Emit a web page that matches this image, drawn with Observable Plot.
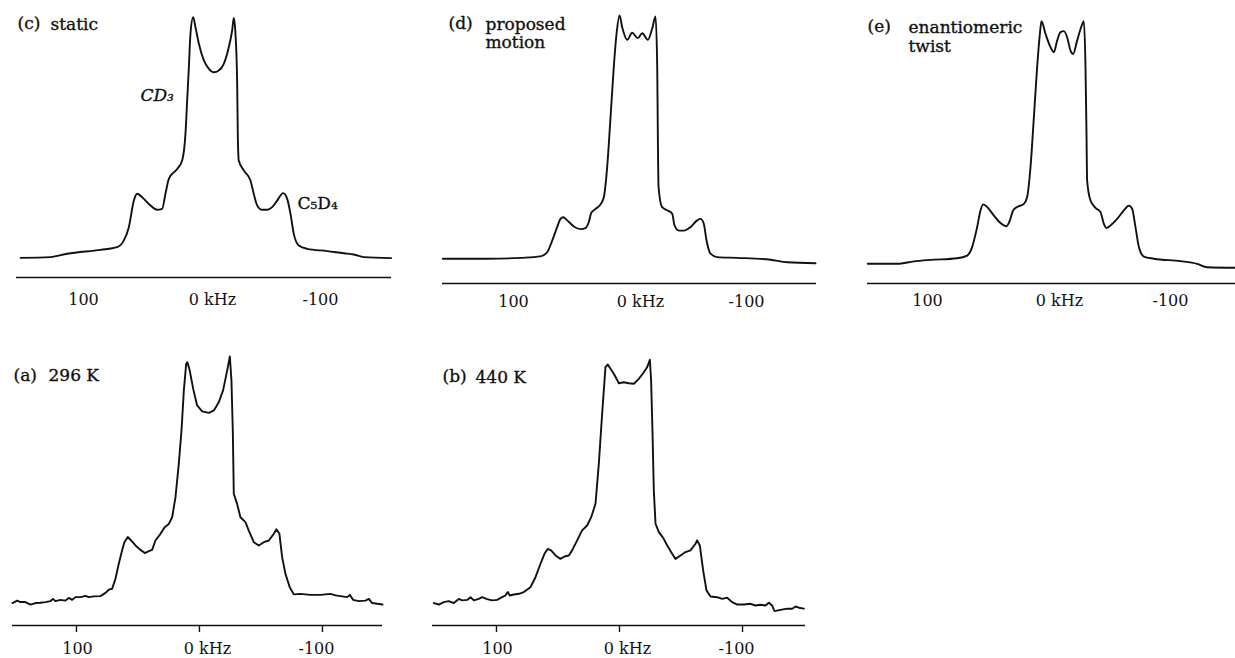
<!DOCTYPE html>
<html>
<head>
<meta charset="utf-8">
<script src="https://cdn.jsdelivr.net/npm/d3@7"></script>
<script src="https://cdn.jsdelivr.net/npm/@observablehq/plot@0.6"></script>
<style>
  html, body { margin: 0; padding: 0; background: #fff; }
  #chart { position: relative; width: 1235px; height: 658px; overflow: hidden; font-family: "DejaVu Serif", serif; color: #111; }
  #chart svg { position: absolute; overflow: visible; }
</style>
</head>
<body>
<div id="chart"></div>
<script>
// ---------------- DATA (frequency in kHz, intensity normalised to tallest peak = 100) ----------------
const panelTags   = ["(c)", "(d)", "(e)", "(a)", "(b)"];
const panelTitles = ["static", "proposed\nmotion", "enantiomeric\ntwist", "296 K", "440 K"];

const tickValues = [100, 0, -100];
const tickLabels = ["100", "0 kHz", "-100"];

const annLabels = ["CD₃", "C₅D₄"];
const annKHz    = [52.5, -76.2];
const annInt    = [65.5, 20.8];

// (c) static
const cKHz = [150.8,126.2,112.5,85.2,71.6,66.1,62.0,57.9,55.2,51.1,44.3,38.8,34.7,32.0,29.2,22.4,18.3,15.6,14.2,12.8,11.5,9.3,7.4,4.6,0.5,-3.6,-7.7,-11.7,-15.8,-19.9,-22.7,-24.0,-25.4,-26.8,-27.3,-28.1,-32.2,-37.7,-40.4,-43.2,-47.3,-51.4,-55.5,-59.6,-64.5,-67.8,-70.5,-73.2,-77.3,-84.2,-100.6,-114.2,-122.4,-130.6,-153.0];
const cInt = [0.4,0.7,2.1,3.7,4.8,7.6,13.1,24.1,26.9,25.5,22.1,20.3,20.7,26.9,33.1,37.2,40.7,51.7,65.5,79.3,93.1,100,95.9,89.0,82.1,78.6,77.2,77.9,80.7,87.6,94.5,99.7,93.1,72.4,51.7,40.7,36.6,32.4,26.9,22.1,20.3,20.3,21.4,24.1,27.2,24.8,18.6,10.3,5.5,4.1,3.2,2.3,1.8,0.7,0.3];

// (d) proposed motion
const dKHz = [158.0,121.1,93.3,76.7,71.1,66.9,62.8,60.0,57.8,54.4,48.9,43.3,39.2,36.4,34.4,30.8,26.7,23.9,21.1,18.3,15.6,13.3,10.8,8.6,4.4,0.3,-4.4,-8.1,-12.8,-16.7,-19.2,-20.6,-21.1,-21.7,-24.7,-30.3,-33.1,-35.0,-38.6,-42.8,-48.3,-53.9,-56.7,-59.4,-61.7,-65.0,-70.6,-87.2,-115.0,-128.9,-152.5];
const dInt = [0,0,0.4,1.0,2.7,7.5,13.0,16.4,17.1,15.8,13.3,12.2,12.6,15.1,18.8,20.5,22.3,25.3,37.7,58.2,78.8,92.5,100,95.2,90.0,92.9,90.7,92.7,90.0,95.2,99.6,78.8,51.4,29.5,21.2,19.6,18.5,13.7,11.6,11.6,13.0,15.8,16.4,14.4,7.5,2.1,0.7,0.4,-0.4,-1.4,-1.8];

// (e) enantiomeric twist
const eKHz = [147.0,123.5,110.1,96.8,75.5,67.5,63.5,59.5,56.8,54.7,51.5,46.1,40.8,36.0,33.3,30.7,27.5,22.1,19.5,16.8,14.1,11.5,9.3,8.0,4.8,0.8,-1.9,-4.5,-7.2,-9.9,-12.5,-15.2,-17.3,-20.5,-23.7,-25.9,-27.2,-28.0,-28.5,-31.2,-35.2,-39.2,-41.9,-44.0,-47.2,-52.5,-57.9,-61.9,-64.5,-67.2,-69.9,-73.9,-81.9,-103.2,-116.5,-124.5,-147.0];
const eInt = [0,0,1.0,1.6,2.3,3.4,6.9,15.1,22.0,24.5,23.4,19.9,16.8,15.5,17.9,22.0,23.4,24.7,27.5,39.8,60.4,81.0,94.8,100,94.8,89.3,87.2,92.0,95.5,95.9,93.4,87.9,86.5,92.0,97.5,100,81.0,53.6,34.3,26.1,23.1,21.3,16.5,14.8,15.8,18.5,22.0,24.0,22.7,15.1,6.9,3.0,2.1,1.1,0,-1.4,-1.6];

// (a) 296 K
const aKHz = [152.0,148.2,145.5,141.5,137.4,133.3,129.3,125.2,121.1,119.0,117.1,113.0,108.9,106.2,103.5,100.8,96.7,92.7,90.0,85.9,80.5,76.4,73.7,71.0,68.3,65.6,62.9,61.0,58.3,55.6,52.0,48.0,44.4,41.2,38.5,35.8,31.7,28.2,24.9,22.2,19.5,16.8,14.6,12.7,10.8,9.8,7.9,5.1,1.9,-2.2,-7.6,-11.7,-15.7,-19.2,-22.5,-24.7,-26.0,-27.1,-27.9,-30.6,-33.3,-37.4,-40.1,-44.2,-48.2,-52.3,-56.4,-60.4,-62.6,-65.0,-67.2,-69.9,-73.4,-76.7,-82.1,-90.2,-98.4,-106.5,-110.6,-114.6,-120.1,-122.2,-124.9,-129.5,-134.9,-137.7,-140.4,-144.4,-148.8];
const aInt = [0.3,1.3,0.7,0.7,-0.3,0.3,0.4,0.7,1.1,2.0,1.1,1.6,1.3,2.4,1.6,2.7,2.7,3.2,2.7,3.0,3.1,4.4,5.7,6.1,10.1,16.2,21.6,24.9,27.0,25.6,23.6,21.8,20.5,21.3,21.8,25.6,28.3,31.0,32.3,35.0,43.1,56.6,70.1,86.3,97.0,97.7,94.3,86.9,80.2,77.8,77.2,78.2,81.5,86.3,94.3,100,90.3,70.1,44.5,40.4,35.0,33.0,29.6,24.9,23.6,24.9,25.6,28.3,30.1,28.3,18.9,12.1,6.7,3.8,4.0,3.6,3.6,4.0,3.4,3.1,2.7,3.6,1.6,1.1,1.3,2.0,0.3,0,-0.3];

// (b) 440 K
const bKHz = [150.9,146.9,142.8,138.8,134.7,130.6,127.9,123.8,121.1,118.4,114.4,111.7,107.6,103.5,99.5,95.4,92.7,90.8,89.2,85.9,81.8,77.8,72.4,68.3,64.2,61.0,58.3,55.6,52.0,48.0,44.7,41.2,38.5,34.4,30.4,26.3,23.0,19.5,16.8,14.1,11.4,9.5,7.3,4.6,0.5,-3.5,-7.6,-11.7,-15.7,-19.2,-22.5,-24.7,-25.7,-26.8,-27.9,-29.3,-32.0,-35.5,-38.8,-42.8,-45.5,-49.6,-53.7,-57.7,-61.8,-63.1,-65.3,-68.0,-70.7,-74.0,-79.4,-83.5,-87.5,-91.6,-95.7,-101.1,-106.5,-110.6,-114.6,-118.7,-121.4,-124.1,-126.0,-130.9,-136.3,-140.4,-143.1,-145.8,-149.9];
const bInt = [0.3,-0.3,0.7,1.1,0.3,2.0,1.4,1.6,2.7,1.4,2.0,2.7,1.9,1.4,1.6,2.7,3.4,4.8,3.4,3.8,4.1,4.8,6.8,10.9,16.4,20.5,22.5,21.9,19.8,18.4,19.4,19.8,21.9,26.0,30.1,32.1,35.5,41.0,57.4,77.9,97.0,98.1,96.3,94.3,90.4,90.8,90.4,90.2,92.2,94.5,97.0,100,91.5,71.0,46.4,32.8,29.4,27.0,23.9,20.5,18.4,19.8,21.2,21.9,24.6,26.0,23.9,13.7,5.5,3.0,2.7,2.0,2.5,0.7,-0.3,-0.3,0,-0.7,-0.4,-0.7,0.4,-0.7,-3.0,-2.5,-2.0,-2.0,-1.1,-1.6,-2.0];

const series = [[cKHz, cInt], [dKHz, dInt], [eKHz, eInt], [aKHz, aInt], [bKHz, bInt]];

// ---------------- LAYOUT (page pixels) ----------------
const layout = [
  {left: 16,  right: 391,  top: 0,   bottom: 315, axisY: 277, py0: 258.3, py100: 16.7,  domain: [154.1, -153.3], tagX: 17,  textX: 50,  baseline: 28.3,  labelBaseline: 304, ticks: false, curve: "monotone-x", ann: true},
  {left: 442, right: 816,  top: 0,   bottom: 315, axisY: 283, py0: 258.3, py100: 15,    domain: [158.3, -153.3], tagX: 448, textX: 485, baseline: 28.3,  labelBaseline: 306, ticks: false, curve: "monotone-x"},
  {left: 867, right: 1235, top: 0,   bottom: 315, axisY: 283, py0: 263.3, py100: 20.7,  domain: [147.2, -147.2], tagX: 867, textX: 908, baseline: 31.7,  labelBaseline: 305, ticks: false, curve: "monotone-x"},
  {left: 12,  right: 382,  top: 330, bottom: 658, axisY: 625, py0: 603.3, py100: 356,   domain: [152.0, -148.8], tagX: 13,  textX: 48,  baseline: 380,   labelBaseline: 653, ticks: true,  curve: "linear"},
  {left: 432, right: 805,  top: 330, bottom: 658, axisY: 625, py0: 603.3, py100: 359.3, domain: [152.0, -151.2], tagX: 442, textX: 475, baseline: 381.7, labelBaseline: 653, ticks: true,  curve: "linear"}
];
const labelDx = [1, 8, -6];
const titleSize = 17, tickFontSize = 16, ink = "#111";
const textWeight = {stroke: ink, strokeWidth: 0.35, paintOrder: "fill"};

const chart = document.getElementById("chart");

layout.forEach((L, p) => {
  const [xs, ys] = series[p];
  const n = Math.min(xs.length, ys.length);
  const rows = d3.range(n).map(i => ({kHz: xs[i], intensity: ys[i]}));

  const width = L.right - L.left;
  const height = L.bottom - L.top;
  const k = (L.py0 - L.py100) / 100;
  const yTop = (L.py0 - L.top) / k;
  const yBot = (L.py0 - L.axisY) / k;

  const marks = [
    Plot.ruleY([yBot], {stroke: ink, strokeWidth: 1.6}),
    Plot.line(rows, {x: "kHz", y: "intensity", curve: L.curve, stroke: ink, strokeWidth: 1.9, strokeLinejoin: "round"})
  ];
  if (L.ticks) {
    const tickLen = 7 / k;
    marks.push(Plot.ruleX(tickValues, {x: d => d, y1: yBot, y2: yBot - tickLen, stroke: ink, strokeWidth: 1.4}));
  }
  tickValues.forEach((v, i) => {
    marks.push(Plot.axisX({
      ticks: [v], tickSize: 0,
      tickPadding: L.labelBaseline - L.axisY - 0.71 * tickFontSize,
      tickFormat: () => tickLabels[i], dx: labelDx[i], fontSize: tickFontSize,
      label: null, fill: ink, ...textWeight
    }));
  });
  marks.push(Plot.text([panelTags[p]], {
    text: d => d, frameAnchor: "top-left", lineAnchor: "top", textAnchor: "start",
    dx: L.tagX - L.left, dy: L.baseline - L.top - 0.71 * titleSize,
    fontSize: titleSize, fill: ink, ...textWeight
  }));
  marks.push(Plot.text([panelTitles[p]], {
    text: d => d, frameAnchor: "top-left", lineAnchor: "top", textAnchor: "start",
    dx: L.textX - L.left, dy: L.baseline - L.top - 0.71 * titleSize,
    fontSize: titleSize, lineHeight: 1.08, fill: ink, ...textWeight
  }));
  if (L.ann) {
    const annRows = annLabels.map((t, i) => ({label: t, kHz: annKHz[i], intensity: annInt[i]}));
    marks.push(Plot.text(annRows.slice(0, 1), {x: "kHz", y: "intensity", text: "label", textAnchor: "start", lineAnchor: "bottom", fontSize: titleSize, fontStyle: "italic", fill: ink, ...textWeight}));
    marks.push(Plot.text(annRows.slice(1), {x: "kHz", y: "intensity", text: "label", textAnchor: "start", lineAnchor: "bottom", fontSize: titleSize, fill: ink, ...textWeight}));
  }

  const svg = Plot.plot({
    width, height,
    marginLeft: 0, marginRight: 0, marginTop: 0, marginBottom: L.bottom - L.axisY,
    x: {domain: L.domain, axis: null, label: null},
    y: {domain: [yBot, yTop], axis: null, label: null},
    style: {background: "transparent", fontFamily: "'DejaVu Serif', serif", color: ink, overflow: "visible"},
    marks
  });
  svg.style.left = L.left + "px";
  svg.style.top = L.top + "px";
  chart.appendChild(svg);
});
</script>
</body>
</html>
